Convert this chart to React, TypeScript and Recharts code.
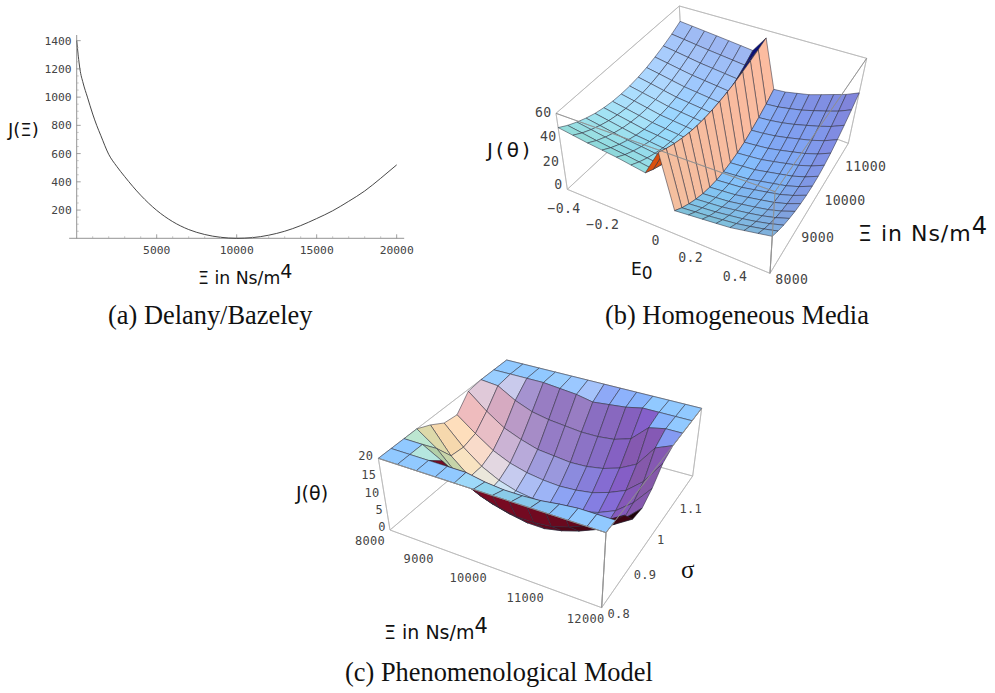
import { useMemo } from "react";
import {
  LineChart,
  Line,
  XAxis,
  YAxis,
  ReferenceLine,
  ScatterChart,
  Scatter,
} from "recharts";

// (a) Delany/Bazeley curve
const curveX = [0, 100, 200, 400, 670, 1000, 1250, 1500, 2000, 2500, 3000, 4000, 5000, 6000, 7000, 8000, 9000, 10000, 11000, 12000, 13000, 14000, 15000, 16000, 17000, 18000, 19000, 20000];
const curveJ = [1400, 1290, 1200, 1100, 1000, 880, 800, 730, 595, 510, 437, 305, 198, 118, 62, 27, 7, 0, 5, 22, 50, 90, 140, 195, 262, 335, 425, 520];
const xTicks = [1000, 2000, 3000, 4000, 5000, 6000, 7000, 8000, 9000, 10000, 11000, 12000, 13000, 14000, 15000, 16000, 17000, 18000, 19000, 20000];
const yTicks = [50, 100, 150, 200, 250, 300, 350, 400, 450, 500, 550, 600, 650, 700, 750, 800, 850, 900, 950, 1000, 1050, 1100, 1150, 1200, 1250, 1300, 1350, 1400];

// (b) Homogeneous Media: J over E0 (columns) and Xi (rows, 8000 first)
const homogeneous = [
  [52, 50, 48, 46.5, 45, 43, 41, 62, 19, 20, 21, 22, 23, 25, 27, 29],
  [47.4, 45.4, 43.4, 41.8, 40.4, 38.7, 37, 58.2, 14.4, 15.4, 16.4, 17.7, 19, 21, 23.2, 25.8],
  [43.7, 41.7, 39.7, 37.9, 36.7, 35.2, 33.7, 55.1, 10.7, 11.7, 12.7, 14.2, 15.7, 17.7, 20.1, 23.1],
  [40.6, 38.6, 36.6, 34.8, 33.6, 32.3, 31, 52.6, 7.6, 8.6, 9.6, 11.3, 13, 15, 17.6, 21],
  [38.1, 36.1, 34.1, 32.2, 31.1, 29.9, 28.7, 50.5, 5.1, 6.1, 7.1, 8.9, 10.7, 12.7, 15.5, 19.2],
  [36.4, 34.4, 32.4, 30.4, 29.4, 28.3, 27.2, 49.1, 3.4, 4.4, 5.4, 7.3, 9.2, 11.2, 14.1, 18],
  [35.3, 33.3, 31.3, 29.4, 28.3, 27.3, 26.3, 48.3, 2.3, 3.3, 4.3, 6.3, 8.3, 10.3, 13.3, 17.2],
  [35, 33, 31, 29, 28, 27, 26, 48, 2, 3, 4, 6, 8, 10, 13, 17],
  [35.3, 33.3, 31.4, 29.4, 28.4, 27.4, 26.4, 48.2, 2.4, 3.4, 4.4, 6.4, 8.4, 10.4, 13.4, 17.4],
  [36.3, 34.4, 32.4, 30.5, 29.5, 28.5, 27.5, 48.8, 3.4, 4.4, 5.5, 7.5, 9.6, 11.7, 14.7, 18.7],
  [37.9, 36.1, 34.2, 32.4, 31.4, 30.4, 29.4, 49.8, 5.2, 6.2, 7.4, 9.4, 11.6, 13.8, 16.8, 20.8],
  [40.3, 38.6, 36.9, 35.3, 34.3, 33.3, 32.3, 51.3, 7.9, 8.9, 10.3, 12.3, 14.6, 16.9, 19.9, 23.9],
  [43.2, 41.7, 40.2, 38.7, 37.7, 36.7, 35.7, 53.1, 11.2, 12.2, 13.7, 15.7, 18.2, 20.7, 23.7, 27.7],
  [46.7, 45.4, 44.1, 42.9, 41.9, 40.9, 39.9, 55.3, 15.1, 16.1, 17.9, 19.9, 22.6, 25.3, 28.3, 32.3],
  [51, 50, 49, 48, 47, 46, 45, 58, 20, 21, 23, 25, 28, 31, 34, 38],
];
const homogeneousTop = 64;

// (c) Phenomenological Model: J over Xi (columns) and sigma (rows, 0.8 first), clipped at 20
const phenomenological = [
  [20, 20, 20, 20, 20, 20, 20, 20, 20, 20, 20, 20, 20],
  [20, 20, 20, 20, 20, 19, 18.5, 18.5, 18.8, 19.5, 20, 20, 20],
  [20, 20, 17, 13, 10.5, 9, 8, 8, 8.5, 10, 12, 15, 18],
  [20, 16, 10.5, 7, 5, 3.8, 3, 3, 4, 5.5, 7.5, 10.5, 13.5],
  [18.3, 11, 6.5, 3.5, 2, 1.2, 1, 1.2, 2, 3.2, 5, 8.5, 13],
  [16, 10.5, 6.5, 4, 2.5, 1.8, 1.5, 1.8, 2.5, 3.8, 5.8, 9.5, 15],
  [15.5, 11.5, 8, 5.8, 4.5, 3.8, 3.5, 3.8, 4.5, 6, 8, 12, 18.5],
  [19.5, 15, 11.5, 9.5, 8, 7.5, 7, 7.2, 8, 9.5, 12, 18, 20],
  [20, 19.5, 16.5, 14.5, 13.5, 13, 12.5, 12.5, 13, 14.5, 19, 20, 20],
  [20, 20, 20, 20, 19.5, 19, 18, 18.5, 19, 20, 20, 20, 20],
  [20, 20, 20, 20, 20, 20, 20, 20, 20, 20, 20, 20, 20],
];
const phenomenologicalTop = 20;

// tick labels of the two 3D boxes
const bLabels = ["60", "40", "20", "0", "\u22120.4", "\u22120.2", "0", "0.2", "0.4", "8000", "9000", "10000", "11000"];
const bSpots = [[220, 338], [235, 410], [243, 483], [265, 553], [282, 625], [398, 672], [557, 722], [662, 772], [795, 830], [965, 838], [1043, 712], [1125, 600], [1187, 500]];
const cLabels = ["20", "15", "10", "5", "0", "8000", "9000", "10000", "11000", "12000", "0.8", "0.9", "1", "1.1"];
const cSpots = [[107, 347], [116, 403], [126, 458], [148, 510], [156, 559], [120, 602], [266, 655], [415, 712], [586, 772], [767, 837], [866, 820], [945, 703], [992, 599], [1082, 505]];

type Pt = [number, number];
type Box = { a: Pt; b: Pt; c: Pt; d: Pt };
type Tone = { red: number; green: number; blue: number; maroon: boolean };

const lerp = (p: Pt, q: Pt, t: number): Pt => [p[0] + (q[0] - p[0]) * t, p[1] + (q[1] - p[1]) * t];
const onBox = (box: Box, u: number, v: number) => lerp(lerp(box.a, box.b, u), lerp(box.d, box.c, u), v);

// Mathematica's default lighting, two sided
const viewX = [0.879, 0.476, 0];
const viewY = [-0.281, 0.519, 0.804];
const viewZ = [0.383, -0.707, 0.59];
const dot = (p: number[], q: number[]) => p[0] * q[0] + p[1] * q[1] + p[2] * q[2];
// the picture is washed out: a soft floor under each colour channel
const soft = (c: number, floor: number) => Math.pow(c ** 4 + floor ** 4, 0.25);

function shade(n: number[], tone: Tone) {
  const len = Math.hypot(n[0], n[1], n[2]) || 1;
  let vx = dot(n, viewX) / len;
  let vy = dot(n, viewY) / len;
  let vz = dot(n, viewZ) / len;
  if (vz < 0) {
    if (tone.maroon) {
      const t = Math.min(1, Math.max(0, 0.5 + vx));
      return `rgb(${Math.round(30 + 90 * t)},${Math.round(2 + 8 * t)},${Math.round(10 + 24 * t)})`;
    }
    vx = -vx;
    vy = -vy;
    vz = -vz;
  }
  const r = Math.max(0, (vx + vz) / 1.414);
  const g = Math.max(0, (vx + vy + vz) / 1.732);
  const b = Math.max(0, (vy + vz) / 1.414);
  const ch = (c: number) => Math.round(255 * Math.min(1, c));
  return `rgb(${ch(soft(r, tone.red))},${ch(soft(g ** 0.75, tone.green) * 0.92)},${ch(soft(b, tone.blue) * 0.97)})`;
}

function buildFacets(grid: number[][], top: number, lower: Box, upper: Box, tone: Tone, override?: (r: number, c: number) => string | undefined) {
  const facets: any[] = [];
  const rows = grid.length - 1;
  const cols = grid[0].length - 1;
  const project = (r: number, c: number): Pt => {
    const u = c / cols;
    const v = r / rows;
    return lerp(onBox(lower, u, v), onBox(upper, u, v), grid[r][c] / top);
  };
  for (let r = rows - 1; r >= 0; r--) {
    for (let c = 0; c < cols; c++) {
      const pts = [project(r, c), project(r, c + 1), project(r + 1, c + 1), project(r + 1, c)];
      const z00 = grid[r][c] / top;
      const z10 = grid[r][c + 1] / top;
      const z01 = grid[r + 1][c] / top;
      const z11 = grid[r + 1][c + 1] / top;
      const du = ((z10 + z11 - z00 - z01) / 2) * 0.5 * cols;
      const dv = ((z01 + z11 - z00 - z10) / 2) * 0.5 * rows;
      facets.push({
        x: (pts[0][0] + pts[2][0]) / 2,
        y: (pts[0][1] + pts[2][1]) / 2,
        pts,
        fill: override?.(r, c) ?? shade([-du, -dv, 1], tone),
        stroke: "#2a2a3a",
      });
    }
  }
  return facets;
}

function segments(pairs: Pt[][], stroke: string) {
  return pairs.map((pts) => ({
    x: (pts[0][0] + pts[1][0]) / 2,
    y: (pts[0][1] + pts[1][1]) / 2,
    pts,
    fill: "none",
    stroke,
  }));
}

const boxEdges = (lower: Box, upper: Box) => ({
  back: segments(
    [
      [lower.a, lower.d],
      [lower.d, lower.c],
      [lower.d, upper.d],
      [upper.a, upper.d],
      [upper.d, upper.c],
      [lower.a, lower.b],
      [lower.b, lower.c],
      [lower.a, upper.a],
      [lower.c, upper.c],
      [lower.b, upper.b],
    ],
    "#b4b4b4",
  ),
  front: segments(
    [
      [upper.a, upper.b],
      [upper.b, upper.c],
      [lower.b, upper.b],
    ],
    "#8e8e8e",
  ),
});

function Surface3D(props: {
  left: number;
  top: number;
  width: number;
  height: number;
  grid: number[][];
  zTop: number;
  lower: Box;
  upper: Box;
  tone: Tone;
  override?: (r: number, c: number) => string | undefined;
  labels: string[];
  spots: number[][];
  labelSize: number;
}) {
  const { left, top, width, height, grid, zTop, lower, upper, tone, override, labels, spots, labelSize } = props;
  // picture coordinates are read at 3x, one axis unit is a third of a pixel
  const k = 1 / 3;
  const facets = useMemo(() => buildFacets(grid, zTop, lower, upper, tone, override), [grid, zTop, lower, upper, tone, override]);
  const edges = useMemo(() => boxEdges(lower, upper), [lower, upper]);
  const marks = labels.map((text, i) => ({ x: spots[i][0], y: spots[i][1], text }));
  const polygon = (p: any) => {
    const d = p.payload ?? p;
    const str = d.pts.map((q: Pt) => `${p.cx + (q[0] - d.x) * k},${p.cy + (q[1] - d.y) * k}`).join(" ");
    return <polygon points={str} fill={d.fill} stroke={d.stroke} strokeWidth={0.7} strokeOpacity={d.fill === "none" ? 1 : 0.75} strokeLinejoin="round" />;
  };
  const label = (p: any) => {
    const d = p.payload ?? p;
    return (
      <text x={p.cx} y={p.cy} dy="0.36em" textAnchor="middle" fontFamily="DejaVu Sans Mono" fontSize={labelSize} letterSpacing={0.3} fill="#444">
        {d.text}
      </text>
    );
  };
  return (
    <div style={{ position: "absolute", left, top }}>
      <ScatterChart width={width} height={height} margin={{ top: 0, right: 0, bottom: 0, left: 0 }}>
        <XAxis type="number" dataKey="x" domain={[0, width * 3]} hide />
        <YAxis type="number" dataKey="y" domain={[0, height * 3]} reversed hide />
        <Scatter data={edges.back} shape={polygon} isAnimationActive={false} />
        <Scatter data={facets} shape={polygon} isAnimationActive={false} />
        <Scatter data={edges.front} shape={polygon} isAnimationActive={false} />
        <Scatter data={marks} shape={label} isAnimationActive={false} />
      </ScatterChart>
    </div>
  );
}

const bLower: Box = { a: [292, 568], b: [900, 820], c: [1135, 430], d: [640, 245] };
const bUpper: Box = { a: [258, 340], b: [915, 575], c: [1190, 175], d: [628, 18] };
const cLower: Box = { a: [180, 570], b: [815, 803], c: [1088, 408], d: [545, 260] };
const cUpper: Box = { a: [145, 355], b: [828, 578], c: [1115, 205], d: [530, 60] };
const bTone: Tone = { red: 0.5, green: 0.5, blue: 0.64, maroon: false };
const cTone: Tone = { red: 0.52, green: 0.38, blue: 0.65, maroon: true };
// the hidden side of the ridge shows orange at the front and navy at the back
const ridgeSide = (r: number, c: number) => (c === 6 ? (r < 7 ? "#d9500f" : "#0a0f78") : undefined);

const curve = curveX.map((x, i) => ({ x, j: curveJ[i] }));

const XTick = (p: any) => {
  const major = p.payload.value % 5000 === 0;
  return (
    <g>
      <line x1={p.x} x2={p.x} y1={p.y} y2={p.y - (major ? 4 : 2)} stroke={major ? "#777" : "#aaa"} strokeWidth={0.7} />
      {major && (
        <text x={p.x} y={p.y + 16} textAnchor="middle" fontFamily="DejaVu Sans Mono" fontSize={11.3} fill="#444">
          {p.payload.value}
        </text>
      )}
    </g>
  );
};

const YTick = (p: any) => {
  const major = p.payload.value % 200 === 0;
  return (
    <g>
      <line x1={p.x} x2={p.x + (major ? 4 : 2)} y1={p.y} y2={p.y} stroke={major ? "#777" : "#aaa"} strokeWidth={0.7} />
      {major && (
        <text x={p.x - 5} y={p.y} dy="0.36em" textAnchor="end" fontFamily="DejaVu Sans Mono" fontSize={11.3} fill="#444">
          {p.payload.value}
        </text>
      )}
    </g>
  );
};

const captionStyle: React.CSSProperties = {
  position: "absolute",
  fontFamily: "Liberation Serif",
  fontSize: 26.4,
  color: "#111",
  whiteSpace: "nowrap",
};
const titleStyle: React.CSSProperties = {
  position: "absolute",
  fontFamily: "DejaVu Sans",
  fontSize: 17.3,
  color: "#111",
  whiteSpace: "nowrap",
};
const supStyle: React.CSSProperties = { fontSize: "1.1em", position: "relative", top: "-0.3em", lineHeight: 0 };

export default function App() {
  return (
    <div style={{ position: "absolute", left: 0, top: 0, width: 995, height: 693, background: "#fff", overflow: "hidden" }}>
      <div style={{ position: "absolute", left: 0, top: 20 }}>
        <LineChart width={420} height={260} data={curve} margin={{ top: 15, right: 15.8, bottom: 0, left: 0 }}>
          <XAxis type="number" dataKey="x" domain={[0, 20470]} ticks={xTicks} interval={0} height={41.7} tickSize={0} tickMargin={0} axisLine={false} tickLine={false} tick={XTick} />
          <YAxis type="number" domain={[0, 1440]} ticks={yTicks} interval={0} width={76.7} tickSize={0} tickMargin={0} axisLine={{ stroke: "#777", strokeWidth: 0.8 }} tickLine={false} tick={YTick} />
          <ReferenceLine segment={[{ x: -470, y: 0 }, { x: 20470, y: 0 }]} ifOverflow="visible" stroke="#777" strokeWidth={0.8} />
          <Line dataKey="j" type="monotone" stroke="#333" strokeWidth={0.9} dot={false} isAnimationActive={false} />
        </LineChart>
      </div>

      <Surface3D left={470} top={0} width={525} height={330} grid={homogeneous} zTop={homogeneousTop} lower={bLower} upper={bUpper} tone={bTone} override={ridgeSide} labels={bLabels} spots={bSpots} labelSize={13.2} />
      <Surface3D left={330} top={340} width={420} height={350} grid={phenomenological} zTop={phenomenologicalTop} lower={cLower} upper={cUpper} tone={cTone} labels={cLabels} spots={cSpots} labelSize={12} />

      <div style={{ ...titleStyle, left: 8, top: 119, fontSize: 18 }}>J(Ξ)</div>
      <div style={{ ...titleStyle, left: 198, top: 268 }}>Ξ in Ns/m<span style={supStyle}>4</span></div>
      <div style={{ ...titleStyle, left: 858, top: 221, fontSize: 22, letterSpacing: 1 }}>Ξ in Ns/m<span style={supStyle}>4</span></div>
      <div style={{ ...titleStyle, left: 487, top: 138, fontSize: 20, letterSpacing: 3 }}>J(θ)</div>
      <div style={{ ...titleStyle, left: 631, top: 259, fontSize: 17 }}>E<sub style={{ fontSize: "1em", lineHeight: 0 }}>0</sub></div>
      <div style={{ ...titleStyle, left: 384, top: 621, fontSize: 19 }}>Ξ in Ns/m<span style={supStyle}>4</span></div>
      <div style={{ ...titleStyle, left: 681, top: 556, fontFamily: "Liberation Serif", fontSize: 25 }}>σ</div>
      <div style={{ ...titleStyle, left: 296, top: 482, fontSize: 19 }}>J(θ)</div>

      <div style={{ ...captionStyle, left: 108, top: 300 }}>(a) Delany/Bazeley</div>
      <div style={{ ...captionStyle, left: 605, top: 300 }}>(b) Homogeneous Media</div>
      <div style={{ ...captionStyle, left: 345, top: 657 }}>(c) Phenomenological Model</div>
    </div>
  );
}
